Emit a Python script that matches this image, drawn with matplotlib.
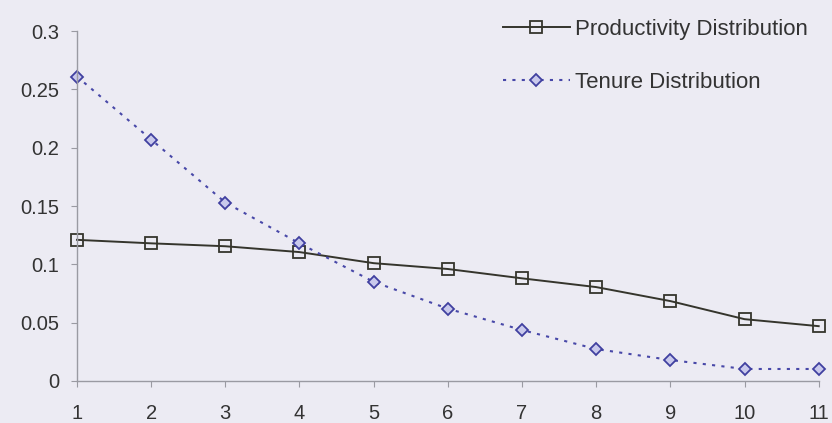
import numpy as np
import matplotlib.pyplot as plt

plt.rcParams['font.family'] = ['Liberation Sans', 'DejaVu Sans']

periods = [1, 2, 3, 4, 5, 6, 7, 8, 9, 10, 11]
productivity = [0.121, 0.118, 0.1155, 0.1105, 0.101, 0.096, 0.088, 0.0805, 0.0685, 0.053, 0.047]
tenure = [0.261, 0.207, 0.153, 0.118, 0.085, 0.062, 0.0437, 0.0274, 0.018, 0.0103, 0.0103]
yticks = [0, 0.05, 0.1, 0.15, 0.2, 0.25, 0.3]
ylabels = ['0', '0.05', '0.1', '0.15', '0.2', '0.25', '0.3']

bg = '#ecebf3'
fig = plt.figure(figsize=(8.32, 4.23), dpi=100, facecolor=bg)
ax = fig.add_axes([0.0925, 0.0993, 0.8915, 0.8274], facecolor=bg)

ax.plot(periods, productivity, color='#35352c', lw=1.4, marker='s', ms=8,
        mfc='none', mec='#35352c', mew=1.3, label='Productivity Distribution', clip_on=False)
ax.plot(periods, tenure, color='#4848a8', lw=1.5, ls=(0, (1.5, 3)), marker='D', ms=6,
        mfc='#c9c9ec', mec='#4040a0', mew=1.3, label='Tenure Distribution', clip_on=False)

ax.set_xlim(1, 11)
ax.set_ylim(0, 0.3)
ax.set_xticks(periods)
ax.set_yticks(yticks)
ax.set_yticklabels(ylabels)

for s in ['top', 'right']:
    ax.spines[s].set_visible(False)
for s in ['left', 'bottom']:
    ax.spines[s].set_color('#9a9aa2')
    ax.spines[s].set_linewidth(1.0)
ax.tick_params(axis='both', colors='#9a9aa2', labelcolor='#333333', labelsize=14.5, length=4.5)
ax.tick_params(axis='x', pad=12)
ax.tick_params(axis='y', pad=8)

leg = ax.legend(loc='upper left', bbox_to_anchor=(503 / 832, 0.956), bbox_transform=fig.transFigure,
                frameon=False, fontsize=16, borderpad=0, borderaxespad=0,
                handlelength=3.0, handletextpad=0.25, labelspacing=1.45, labelcolor='#333333')

fig.savefig('out.png', dpi=100, facecolor=bg)
